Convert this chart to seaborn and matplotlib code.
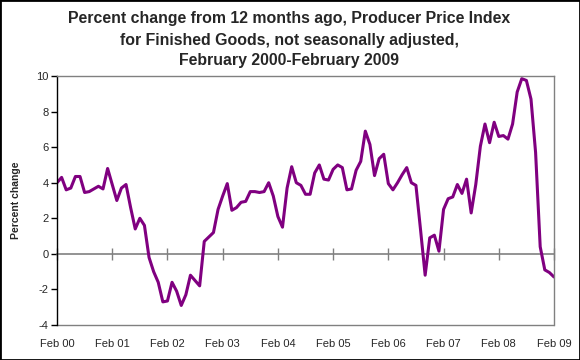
import seaborn as sns
import matplotlib.pyplot as plt
import matplotlib.transforms as mtransforms
from matplotlib.patches import Rectangle
import pandas as pd

# 12-month percent change, PPI finished goods, Feb 2000 - Feb 2009 (monthly)
pct_change = [
    4.0, 4.3, 3.6, 3.7, 4.35, 4.35, 3.45, 3.5, 3.65, 3.8, 3.65, 4.8,      # 2000
    3.9, 3.0, 3.7, 3.9, 2.6, 1.4, 2.0, 1.6, -0.2, -1.0, -1.6, -2.7,       # 2001
    -2.65, -1.6, -2.1, -2.9, -2.3, -1.2, -1.5, -1.8, 0.7, 0.95, 1.2, 2.5,  # 2002
    3.25, 3.95, 2.45, 2.6, 2.9, 2.95, 3.5, 3.5, 3.45, 3.5, 4.0, 3.25,     # 2003
    2.1, 1.5, 3.7, 4.9, 4.0, 3.85, 3.35, 3.35, 4.55, 5.0, 4.2, 4.15,      # 2004
    4.75, 5.0, 4.85, 3.6, 3.65, 4.7, 5.2, 6.9, 6.15, 4.4, 5.35, 5.6,      # 2005
    3.95, 3.6, 4.0, 4.45, 4.85, 4.0, 3.85, 1.35, -1.2, 0.9, 1.05, 0.15,   # 2006
    2.5, 3.1, 3.2, 3.9, 3.4, 4.2, 2.3, 3.9, 6.05, 7.3, 6.25, 7.4,         # 2007
    6.6, 6.65, 6.45, 7.3, 9.1, 9.85, 9.75, 8.7, 5.7, 0.4, -0.9, -1.05,    # 2008
    -1.3,                                                                 # Feb 2009
]
year_labels = ['Feb 00', 'Feb 01', 'Feb 02', 'Feb 03', 'Feb 04',
               'Feb 05', 'Feb 06', 'Feb 07', 'Feb 08', 'Feb 09']
y_ticks = [-4, -2, 0, 2, 4, 6, 8, 10]

title = ('Percent change from 12 months ago, Producer Price Index\n'
         'for Finished Goods, not seasonally adjusted,\n'
         'February 2000-February 2009')

df = pd.DataFrame({'month': range(len(pct_change)), 'pct': pct_change})
year_pos = list(range(0, len(pct_change), 12))

sns.set_style('white')
plt.rcParams['font.family'] = ['Liberation Sans', 'DejaVu Sans']

fig = plt.figure(figsize=(5.8, 3.6), dpi=100)
ax = fig.add_axes([57 / 580, 1 - 325 / 360, (554 - 57) / 580, (325 - 76) / 360])

sns.lineplot(x='month', y='pct', data=df, color='#800080', linewidth=2.2, ax=ax)

ax.set_xlim(0, len(pct_change) - 1)
ax.set_ylim(-4, 10)

# plot area frame is grey, the value axis is black
for side in ['top', 'right']:
    ax.spines[side].set_color('#808080')
    ax.spines[side].set_linewidth(1)
ax.spines['left'].set_color('black')
ax.spines['left'].set_linewidth(1)

# category axis crosses at zero
ax.spines['bottom'].set_position(('data', 0))
ax.spines['bottom'].set_color('#808080')
ax.spines['bottom'].set_linewidth(1.2)
ax.add_patch(Rectangle((0, 0), 1, 0.001, transform=ax.transAxes, facecolor='none',
                       edgecolor='#808080', linewidth=1, clip_on=False))
ax.spines['bottom'].set_zorder(1)

ax.set_xticks(year_pos)
ax.set_xticklabels([])
ax.tick_params(axis='x', direction='inout', length=8, width=1, color='#808080', bottom=True)

ax.set_yticks(y_ticks)
ax.set_yticklabels([str(v) for v in y_ticks], fontsize=8)
ax.tick_params(axis='y', direction='out', length=4, width=1, color='black', left=True, pad=2)

# year labels sit under the plot area, not on the zero line
trans = mtransforms.blended_transform_factory(ax.transData, ax.transAxes)
for pos, lab in zip(year_pos, year_labels):
    ax.text(pos, -0.076, lab, transform=trans, ha='center', va='center', fontsize=8)

ax.set_xlabel('')
ax.set_ylabel('Percent change', fontsize=7.5, fontweight='bold', labelpad=11)

fig.text(289 / 580, 1 - 40 / 360, title, ha='center', va='center',
         fontsize=11.4, fontweight='bold', linespacing=1.5)

# black border round the whole picture
fig.patches.append(Rectangle((0, 0), 1, 1, transform=fig.transFigure, fill=False,
                             edgecolor='black', linewidth=2))

plt.savefig('out.png', dpi=100)
